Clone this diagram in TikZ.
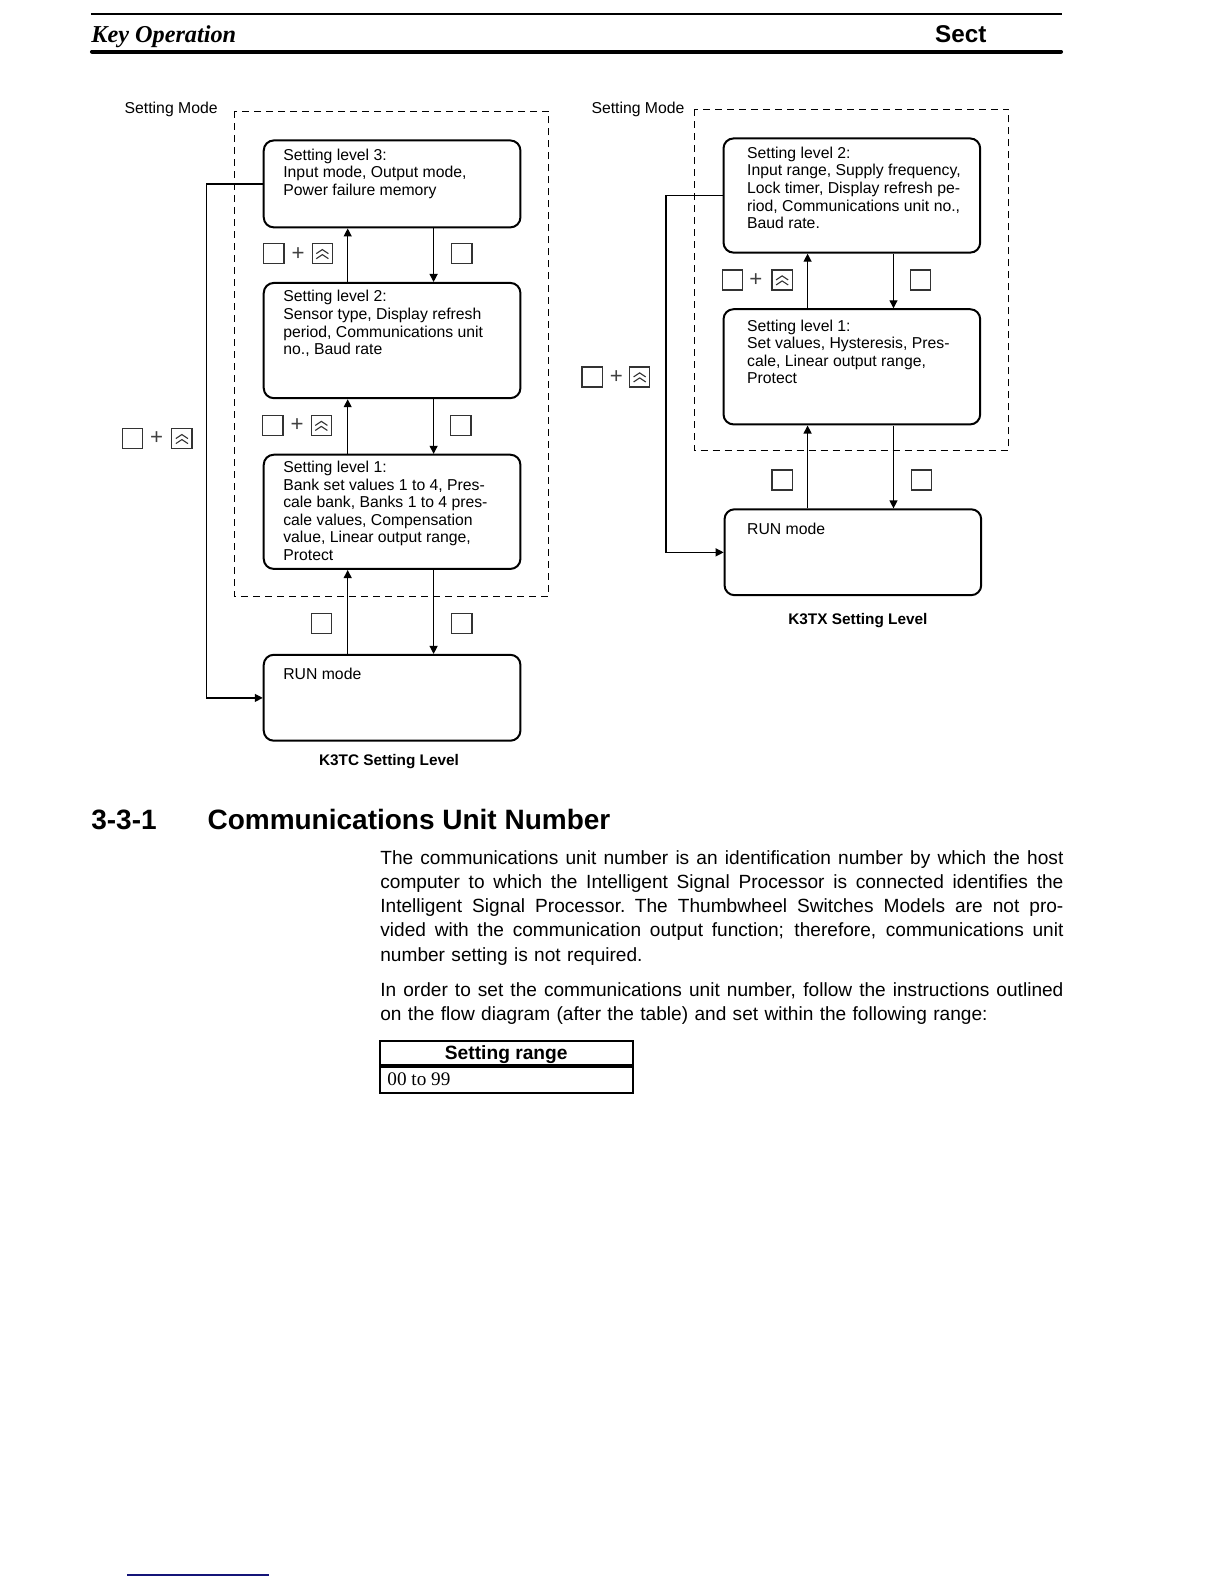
\documentclass[tikz,border=0pt]{standalone}
\usepackage{fontspec}
\setmainfont{Liberation Sans}
\newfontfamily\seriffont{Liberation Serif}
\usetikzlibrary{arrows.meta,calc}
\newcommand{\jline}[1]{\noindent\hbox to 338pt{\spaceskip=0.28em plus 1em minus 0.05em\relax #1}}
\begin{document}
\begin{tikzpicture}[x=0.5pt,y=-0.5pt,
  box/.style={draw, line width=1pt, rounded corners=5pt, minimum width=127pt, anchor=north west, inner sep=0pt},
  dtxt/.style={anchor=north west, inner sep=0pt, align=left, font=\fontsize{7.8}{8.7}\selectfont},
  lbl/.style={anchor=base west, inner sep=0pt, font=\fontsize{7.8}{8.7}\selectfont},
  captxt/.style={anchor=base, inner sep=0pt, font=\fontsize{7.6}{9}\selectfont\bfseries},
  arr/.style={line width=0.6pt, -{Triangle[length=4pt,width=4pt]}},
  key/.style={draw=black!80, line width=0.7pt, minimum size=10pt, inner sep=0pt},
  upkey/.style={key, path picture={
     \draw[line width=0.55pt] ([shift={(4,10)}]path picture bounding box.north west) -- ([shift={(10,6)}]path picture bounding box.north west) -- ([shift={(16,10)}]path picture bounding box.north west);
     \draw[line width=0.55pt] ([shift={(4,15)}]path picture bounding box.north west) -- ([shift={(10,11)}]path picture bounding box.north west) -- ([shift={(16,15)}]path picture bounding box.north west);}},
  plus/.style={inner sep=0pt, font=\fontsize{11}{11}\selectfont, text=black!75},
  dashbox/.style={draw, line width=0.5pt, dash pattern=on 3.5pt off 2.5pt},
  body/.style={anchor=north west, inner sep=0pt, text width=338pt, font=\fontsize{9.45}{12}\selectfont}
]
\useasboundingbox (0,0) rectangle (1224,1584);

\begin{scope}[scale=1.0105, every node/.append style={transform shape}]
% ---------- header ----------
\draw[line width=0.9pt] (90,14) -- (1051,14);
\draw[line width=2pt, line cap=round] (91,51) -- (1050,51);
\node[anchor=base west, inner sep=0pt, font=\seriffont\fontsize{12}{14}\selectfont\bfseries\itshape] (hdl) at (90,42) {Key Operation};
\node[anchor=base west, inner sep=0pt, font=\fontsize{12}{14}\selectfont\bfseries] (hdr) at (925,42) {Sect};

% ---------- left diagram (K3TC) ----------
\node[lbl] (asm) at (123,112) {Setting Mode};
\draw[dashbox] (232,110) rectangle (543,590);

\node[box, minimum height=43pt] (a3) at (260,138) {};
\node[box, minimum height=57pt] (a2) at (260,279) {};
\node[box, minimum height=56.5pt] (a1) at (260,449) {};
\node[box, minimum height=42.5pt] (ar) at (260,647) {};

\node[dtxt] (a3t) at (280,147) {Setting level 3:\\Input mode, Output mode,\\Power failure memory};
\node[dtxt] (a2t) at (280,287) {Setting level 2:\\Sensor type, Display refresh\\period, Communications unit\\no., Baud rate};
\node[dtxt] (a1t) at (280,456) {Setting level 1:\\Bank set values 1 to 4, Pres-\\cale bank, Banks 1 to 4 pres-\\cale values, Compensation\\value, Linear output range,\\Protect};
\node[dtxt] (art) at (280,661) {RUN mode};

\coordinate (aup) at (344,0);
\coordinate (adn) at (429,0);
\coordinate (aloop) at (204,0);
\draw[arr] (a2.north -| aup) -- (a3.south -| aup);
\draw[arr] (a3.south -| adn) -- (a2.north -| adn);
\draw[arr] (a1.north -| aup) -- (a2.south -| aup);
\draw[arr] (a2.south -| adn) -- (a1.north -| adn);
\draw[arr] (ar.north -| aup) -- (a1.south -| aup);
\draw[arr] (a1.south -| adn) -- (ar.north -| adn);
\draw[arr] (a3.west) -- (a3.west -| aloop) |- (ar.west);

\node[key] (ka1) at (271,251) {};
\node[plus] (pa1) at (295,251) {+};
\node[upkey] (ua1) at (319,251) {};
\node[key] (kb1) at (457,251) {};
\node[key] (ka2) at (270,421) {};
\node[plus] (pa2) at (294,421) {+};
\node[upkey] (ua2) at (318,421) {};
\node[key] (kb2) at (456,421) {};
\node[key] (ka3) at (318,617) {};
\node[key] (kb3) at (457,617) {};
\node[key] (ka4) at (131,434) {};
\node[plus] (pa4) at (155,434) {+};
\node[upkey] (ua4) at (180,434) {};

\node[captxt] (acap) at (385,758) {K3TC Setting Level};

% ---------- right diagram (K3TX) ----------
\node[lbl] (bsm) at (585,112) {Setting Mode};
\draw[dashbox] (687,108) rectangle (998,446);

\node[box, minimum height=56.5pt] (b2) at (715,136) {};
\node[box, minimum height=57pt] (b1) at (715,305) {};
\node[box, minimum height=42.5pt] (br) at (716,503) {};

\node[dtxt] (b2t) at (739,145) {Setting level 2:\\Input range, Supply frequency,\\Lock timer, Display refresh pe-\\riod, Communications unit no.,\\Baud rate.};
\node[dtxt] (b1t) at (739,316) {Setting level 1:\\Set values, Hysteresis, Pres-\\cale, Linear output range,\\Protect};
\node[dtxt] (brt) at (739,517) {RUN mode};

\coordinate (bup) at (799,0);
\coordinate (bdn) at (884,0);
\coordinate (bloop) at (659,0);
\draw[arr] (b1.north -| bup) -- (b2.south -| bup);
\draw[arr] (b2.south -| bdn) -- (b1.north -| bdn);
\draw[arr] (br.north -| bup) -- (b1.south -| bup);
\draw[arr] (b1.south -| bdn) -- (br.north -| bdn);
\draw[arr] (b2.west) -- (b2.west -| bloop) |- (br.west);

\node[key] (kc1) at (725,277) {};
\node[plus] (pc1) at (748,277) {+};
\node[upkey] (uc1) at (774,277) {};
\node[key] (kd1) at (911,277) {};
\node[key] (kc2) at (774,475) {};
\node[key] (kd2) at (912,475) {};
\node[key] (kc3) at (586,373) {};
\node[plus] (pc3) at (610,373) {+};
\node[upkey] (uc3) at (633,373) {};

\node[captxt] (bcap) at (849,618) {K3TX Setting Level};

% ---------- section ----------
\node[anchor=base west, inner sep=0pt, font=\fontsize{13.85}{16}\selectfont\bfseries] (secn) at (90,821) {3-3-1};
\node[anchor=base west, inner sep=0pt, font=\fontsize{13.85}{16}\selectfont\bfseries] (sect) at (205,821) {Communications Unit Number};

\node[body] (p1) at (376,841) {%
\jline{The communications unit number is an identification number by which the host}\\
\jline{computer to which the Intelligent Signal Processor is connected identifies the}\\
\jline{Intelligent Signal Processor. The Thumbwheel Switches Models are not pro-}\\
\jline{vided with the communication output function; therefore, communications unit}\\
number setting is not required.};

\node[body] (p2) at (376,972) {%
\jline{In order to set the communications unit number, follow the instructions outlined}\\
on the flow diagram (after the table) and set within the following range:};

% ---------- table ----------
\draw[line width=1pt] (376,1030) rectangle (626,1054);
\draw[line width=1pt] (376,1056) rectangle (626,1082);
\node[anchor=base, inner sep=0pt, font=\fontsize{9.5}{11}\selectfont\bfseries] (th) at (501,1048) {Setting range};
\node[anchor=base west, inner sep=0pt, font=\seriffont\fontsize{9.5}{11}\selectfont] (td) at (383,1074) {00 to 99};
\end{scope}

% ---------- footer ----------
\draw[line width=0.8pt, draw={rgb,255:red,20;green,20;blue,120}] (127,1575) -- (269,1575);
\end{tikzpicture}
\end{document}
